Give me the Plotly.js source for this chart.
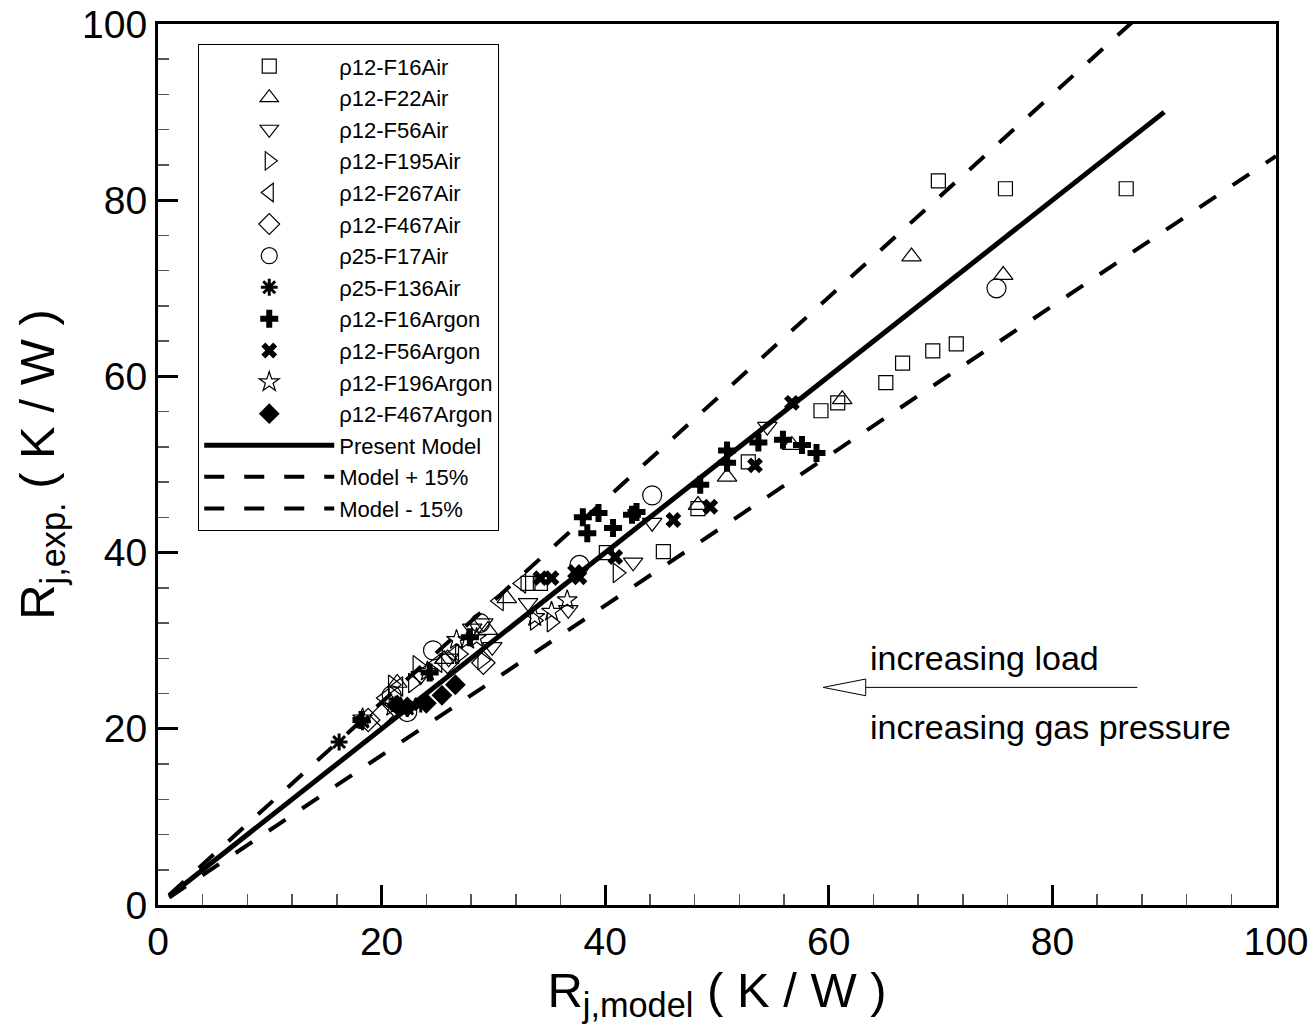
<!DOCTYPE html>
<html>
<head>
<meta charset="utf-8">
<script src="https://cdn.plot.ly/plotly-3.0.1.min.js"></script>
<style>html,body{margin:0;padding:0;background:#fff;}#chart{width:1315px;height:1033px;}</style>
</head>
<body>
<div id="chart"></div>
<script>
// ---- data (R_j,model , R_j,exp.) in K/W ----
const seriesNames = ["ρ12-F16Air","ρ12-F22Air","ρ12-F56Air","ρ12-F195Air","ρ12-F267Air","ρ12-F467Air",
  "ρ25-F17Air","ρ25-F136Air","ρ12-F16Argon","ρ12-F56Argon","ρ12-F196Argon","ρ12-F467Argon"];

const f16AirX = [69.8,75.8,86.6,71.4,69.3,66.6,65.1,60.8,59.3,52.8,48.3,45.2,40.1,33.1,34.2];
const f16AirY = [82.2,81.3,81.3,63.7,62.9,61.5,59.3,57.0,56.1,50.3,45.0,40.1,40.0,36.5,36.5];

const f22AirX = [67.4,75.6,61.2,56.7,50.9,48.3,31.2,21.4,25.6,29.5];
const f22AirY = [73.6,71.5,57.4,52.2,48.6,45.4,34.8,25.2,27.9,31.2];

const f56AirX = [54.5,44.2,42.5,33.1,36.7,29.1,29.9,28.1,23.5,26.0];
const f56AirY = [54.3,43.4,38.9,34.3,33.5,32.0,29.3,31.4,26.0,28.0];

const f195AirX = [41.1,33.7,35.2,29.0,23.2,22.8,21.0,27.0];
const f195AirY = [37.7,32.3,32.1,27.8,27.2,25.2,25.0,28.5];

const f267AirX = [32.5,30.5,21.5,20.3,26.5,25.0];
const f267AirY = [36.5,34.5,24.8,23.5,28.5,27.5];

const f467AirX = [29.1,25.9,18.8,20.0];
const f467AirY = [27.5,27.6,21.0,21.5];

const f17AirX = [75.0,44.2,37.7,28.8,24.6,20.9,22.3];
const f17AirY = [70.0,46.5,38.6,32.0,28.9,23.8,21.9];

const f136AirX = [16.2,18.3,21.3,22.3,23.5];
const f136AirY = [18.5,20.8,22.8,22.3,22.8];

const f16ArX = [38.0,39.4,38.4,40.7,42.4,42.8,48.5,50.9,50.9,53.7,55.9,57.6,58.9,27.9,24.3,18.2];
const f16ArY = [44.0,44.5,42.2,42.8,44.3,44.6,47.7,51.6,50.2,52.5,52.8,52.2,51.3,30.4,26.4,21.0];

const f56ArX = [56.7,53.4,49.4,46.1,40.9,37.3,34.2,35.2,37.7];
const f56ArY = [57.0,49.9,45.2,43.7,39.5,37.8,37.1,37.1,37.2];

const f196ArX = [36.6,35.2,33.7,26.7,27.7,28.5,24.1,18.3,21.0];
const f196ArY = [34.6,33.3,32.7,30.1,30.1,30.3,26.5,21.2,22.5];

const f467ArX = [26.6,25.4,24.0,22.3,21.4];
const f467ArY = [25.0,23.8,22.9,22.5,22.7];

// model lines
const modelX = [1, 90];
const modelY = [1, 90];
const plusX = [1, 100];
const plusY = [1.15, 115];
const minusX = [1, 100];
const minusY = [0.85, 85];

const lineNames = ["Present Model","Model + 15%","Model - 15%"];

// annotation
const arrowTail = [87.6, 24.7];
const arrowTip = [59.5, 24.7];
const headLen = 3.8, headHalf = 0.95;
const noteLoad = "increasing load";
const notePressure = "increasing gas pressure";
const noteLoadPos = [63.5, 28.0];
const notePressurePos = [63.5, 20.2];

const FONT = "Liberation Sans, Arial, sans-serif";
const NB = "\u00A0";

function pts(name, x, y, symbol, size, lw) {
  return {type:"scatter", mode:"markers", name:name, x:x, y:y,
    marker:{symbol:symbol, size:size, color:"black", line:{color:"black", width:lw}}};
}

const traces = [
  pts(seriesNames[0], f16AirX, f16AirY, "square-open", 14, 1.2),
  pts(seriesNames[1], f22AirX, f22AirY, "triangle-up-open", 17, 1.2),
  pts(seriesNames[2], f56AirX, f56AirY, "triangle-down-open", 17, 1.2),
  pts(seriesNames[3], f195AirX, f195AirY, "triangle-right-open", 17, 1.2),
  pts(seriesNames[4], f267AirX, f267AirY, "triangle-left-open", 17, 1.2),
  pts(seriesNames[5], f467AirX, f467AirY, "diamond-open", 18, 1.2),
  pts(seriesNames[6], f17AirX, f17AirY, "circle-open", 19, 1.2),
  pts(seriesNames[7], f136AirX, f136AirY, "asterisk-open", 14, 3),
  pts(seriesNames[8], f16ArX, f16ArY, "cross", 15, 0),
  pts(seriesNames[9], f56ArX, f56ArY, "x", 14, 0),
  pts(seriesNames[10], f196ArX, f196ArY, "star-open", 15, 1.2),
  pts(seriesNames[11], f467ArX, f467ArY, "diamond", 16, 0),
  {type:"scatter", mode:"lines", name:lineNames[0], x:modelX, y:modelY, line:{color:"black", width:5}},
  {type:"scatter", mode:"lines", name:lineNames[1], x:plusX, y:plusY, line:{color:"black", width:4, dash:"20px,20px"}},
  {type:"scatter", mode:"lines", name:lineNames[2], x:minusX, y:minusY, line:{color:"black", width:4, dash:"20px,20px"}}
];

const axisCommon = {
  range:[0,100], dtick:20, tick0:0, ticks:"inside", ticklen:20, tickwidth:3, tickcolor:"black",
  showline:true, linewidth:3, linecolor:"black", mirror:true, showgrid:false, zeroline:false,
  tickfont:{family:FONT, size:39, color:"black"},
  minor:{dtick:4, ticks:"inside", ticklen:11, tickwidth:1.5, tickcolor:"#555", showgrid:false}
};

const layout = {
  width:1315, height:1033,
  margin:{l:158, r:39, t:24, b:128},
  paper_bgcolor:"white", plot_bgcolor:"white",
  font:{family:FONT, color:"black"},
  showlegend:true,
  xaxis:Object.assign({}, axisCommon, {
    title:{text:"R<sub>j,model</sub> (" + NB + "K" + NB + "/" + NB + "W" + NB + ")", font:{family:FONT, size:49}, standoff:8}
  }),
  yaxis:Object.assign({}, axisCommon, {
    title:{text:"R<sub>j,exp.</sub> (" + NB + "K" + NB + "/" + NB + "W" + NB + ")", font:{family:FONT, size:49}, standoff:12}
  }),
  legend:{x:0.036, y:0.977, xanchor:"left", yanchor:"top", bgcolor:"white",
    bordercolor:"black", borderwidth:1, font:{family:FONT, size:22, color:"black"},
    itemwidth:130, entrywidth:318, entrywidthmode:"pixels", tracegroupgap:0},
  annotations:[
    {x:noteLoadPos[0], y:noteLoadPos[1], xref:"x", yref:"y", text:noteLoad, showarrow:false, xanchor:"left",
     yanchor:"middle", font:{family:FONT, size:34, color:"black"}},
    {x:notePressurePos[0], y:notePressurePos[1], xref:"x", yref:"y", text:notePressure, showarrow:false, xanchor:"left",
     yanchor:"middle", font:{family:FONT, size:34, color:"black"}}
  ],
  shapes:[
    {type:"line", xref:"x", yref:"y", x0:arrowTip[0]+headLen, y0:arrowTip[1], x1:arrowTail[0], y1:arrowTail[1],
     line:{color:"black", width:1}},
    {type:"path", xref:"x", yref:"y",
     path:"M "+arrowTip[0]+" "+arrowTip[1]+" L "+(arrowTip[0]+headLen)+" "+(arrowTip[1]+headHalf)+" L "+(arrowTip[0]+headLen)+" "+(arrowTip[1]-headHalf)+" Z",
     line:{color:"black", width:1}, fillcolor:"white"}
  ]
};

Plotly.newPlot("chart", traces, layout, {displayModeBar:false, staticPlot:true});
</script>
</body>
</html>
